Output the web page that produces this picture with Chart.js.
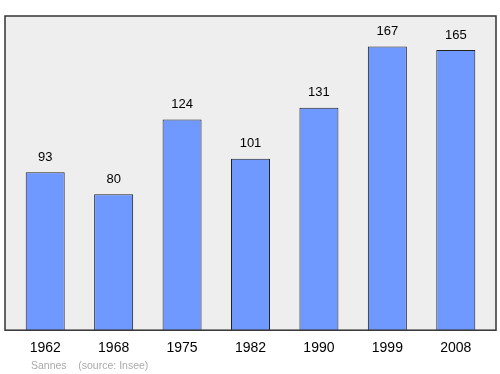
<!DOCTYPE html>
<html lang="fr">
<head>
  <meta charset="UTF-8">
  <script src="https://cdn.jsdelivr.net/npm/chart.js"></script>
  <title>Sannes</title>
  <style>
    body{ margin:0; background:#fff; }
    #wrap{ position:relative; width:500px; height:374px; }
    #source{
      position:absolute; left:31px; top:359px;
      font-family:"Liberation Sans", Arial, sans-serif; font-size:10.5px; color:#aaaaaa;
      white-space:pre;
    }
  </style>
</head>
<body>
<div id="wrap">
  <canvas id="myChart" width="500" height="374"></canvas>
  <div id="source">Sannes    (source: Insee)</div>
</div>
<script>
  var years = ['1962', '1968', '1975', '1982', '1990', '1999', '2008'];
  var population = [93, 80, 124, 101, 131, 167, 165];
  var yMax = 185;

  // fond gris + cadre + valeurs au-dessus des barres
  var frame = {
    id: 'frame',
    beforeDraw: function(chart){
      var a = chart.chartArea, c = chart.ctx;
      c.save();
      c.fillStyle = '#eeeeee';
      c.fillRect(a.left - 6, a.top, a.right - a.left + 12, a.bottom - a.top);
      c.restore();
    },
    afterDatasetsDraw: function(chart){
      var a = chart.chartArea, c = chart.ctx;
      c.save();
      c.strokeStyle = '#333333';
      c.lineWidth = 1.5;
      c.strokeRect(a.left - 6, a.top, a.right - a.left + 12, a.bottom - a.top);
      c.fillStyle = '#000';
      c.font = '13px "Liberation Sans", Arial, sans-serif';
      c.textAlign = 'center';
      c.textBaseline = 'middle';
      chart.getDatasetMeta(0).data.forEach(function(bar, i){
        c.fillText(population[i], bar.x, bar.y - 15);
      });
      c.restore();
    }
  };

  new Chart(document.getElementById('myChart'), {
    type: 'bar',
    data: {
      labels: years,
      datasets: [{
        data: population,
        backgroundColor: '#7099ff',
        borderColor: '#222222',
        borderWidth: 1,
        barPercentage: 0.57,
        categoryPercentage: 1
      }]
    },
    options: {
      responsive: false,
      animation: false,
      layout: { padding: { left: 11, right: 10, top: 16, bottom: 15 } },
      plugins: { legend: { display: false }, tooltip: { enabled: false } },
      scales: {
        x: {
          grid: { display: false },
          border: { display: false },
          ticks: { color: '#000', font: { family: '"Liberation Sans", Arial', size: 14 }, padding: 2 }
        },
        y: { display: false, min: 0, max: yMax }
      }
    },
    plugins: [frame]
  });
</script>
</body>
</html>
